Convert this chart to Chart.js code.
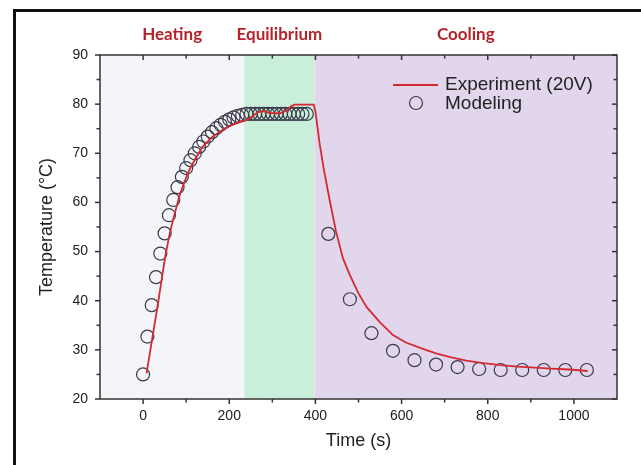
<!DOCTYPE html>
<html>
<head>
<meta charset="utf-8">
<script src="https://cdn.jsdelivr.net/npm/chart.js@4.4.1/dist/chart.umd.min.js"></script>
<style>
  body { margin: 0; background: #fff; }
  #wrap { position: relative; width: 641px; height: 465px; overflow: hidden; }
  #frame { position: absolute; left: 13px; top: 9px; width: 700px; height: 500px; border-left: 3px solid #111; border-top: 3px solid #111; }
  canvas { position: absolute; left: 0; top: 0; }
</style>
</head>
<body>
<div id="wrap">
  <div id="frame"></div>
  <canvas id="chart" width="641" height="465"></canvas>
</div>
<script>
// experiment (red line)
const expTime = [8, 22, 34, 44, 52, 62, 70, 84, 96, 108, 122, 138, 160, 185, 210, 240, 255, 265, 278, 295, 317, 335, 344, 352, 396,
  400, 410, 420, 433, 448, 464, 480, 500, 519, 550, 580, 610, 643, 680, 713, 750, 790, 830, 869, 910, 946, 990, 1032];
const expTemp = [25.2, 32.7, 39.1, 44.8, 49.3, 53.7, 56.6, 61.2, 64.2, 66.7, 69.0, 71.3, 73.3, 74.8, 75.9, 76.8, 77.6, 78.3, 78.6, 78.2, 78.1, 78.8, 79.6, 79.9, 79.9,
  78.5, 71.8, 66.5, 60.5, 54.0, 48.6, 45.2, 41.5, 38.7, 35.6, 33.0, 31.5, 30.4, 29.3, 28.5, 27.8, 27.3, 26.9, 26.6, 26.4, 26.2, 26.0, 25.7];

// modeling (open circles)
const modelTime = [0, 10, 20, 30, 40, 50, 60, 70, 80, 90, 100, 110, 120, 130, 140, 150, 160, 170, 180, 190,
  200, 210, 220, 230, 240, 250, 260, 270, 280, 290, 300, 310, 320, 330, 340, 350, 360, 370, 380,
  430, 480, 530, 580, 630, 680, 730, 780, 830, 880, 930, 980, 1030];
const modelTemp = [25.0, 32.7, 39.1, 44.8, 49.6, 53.7, 57.4, 60.5, 63.1, 65.2, 67.0, 68.6, 70.0, 71.3, 72.4, 73.4, 74.3, 75.1, 75.8, 76.4,
  76.9, 77.3, 77.6, 77.8, 78.0, 78.0, 78.0, 78.0, 78.0, 78.0, 78.0, 78.0, 78.0, 78.0, 78.0, 78.0, 78.0, 78.0, 78.0,
  53.6, 40.3, 33.4, 29.8, 27.9, 27.0, 26.5, 26.1, 25.9, 25.9, 25.9, 25.9, 25.9];

// phases shaded behind the curves
const phaseNames = ['Heating', 'Equilibrium', 'Cooling'];
const phaseStart = [-100, 235, 398];
const phaseEnd = [235, 398, 1100];

const xTickLabels = [0, 200, 400, 600, 800, 1000];
const xMinorTicks = [100, 300, 500, 700, 900];
const yTickLabels = [20, 30, 40, 50, 60, 70, 80, 90];
const yMinorTicks = [25, 35, 45, 55, 65, 75, 85];

const phaseColors = ['#f4f5f9', '#c9eed9', '#e2d6ec'];
const axisColor = '#333';
const textColor = '#222';
const redColor = '#d42a32';
const circleColor = '#3a3a48';
const textFont = '"Liberation Sans", Arial, sans-serif';

const figurePlugin = {
  id: 'figure',
  beforeDatasetsDraw(chart) {
    const { ctx, chartArea, scales: { x } } = chart;
    ctx.save();
    phaseNames.forEach((name, i) => {
      const x0 = x.getPixelForValue(phaseStart[i]);
      const x1 = x.getPixelForValue(phaseEnd[i]);
      ctx.fillStyle = phaseColors[i];
      ctx.fillRect(x0, chartArea.top, x1 - x0, chartArea.bottom - chartArea.top);
    });
    ctx.restore();
  },
  afterDatasetsDraw(chart) {
    const { ctx, chartArea: a, scales: { x, y } } = chart;
    ctx.save();
    ctx.strokeStyle = axisColor;
    ctx.lineWidth = 1.5;
    ctx.strokeRect(a.left, a.top, a.right - a.left, a.bottom - a.top);

    // ticks: outward on bottom/left, inward on top/right
    const tick = (x0, y0, x1, y1) => { ctx.beginPath(); ctx.moveTo(x0, y0); ctx.lineTo(x1, y1); ctx.stroke(); };
    xTickLabels.concat(xMinorTicks).forEach(v => {
      const len = xTickLabels.includes(v) ? 5 : 3.5;
      const px = x.getPixelForValue(v);
      tick(px, a.bottom, px, a.bottom + len);
      tick(px, a.top, px, a.top + len);
    });
    yTickLabels.concat(yMinorTicks).forEach(v => {
      const len = yTickLabels.includes(v) ? 5 : 3.5;
      const py = y.getPixelForValue(v);
      tick(a.left, py, a.left - len, py);
      tick(a.right, py, a.right - len, py);
    });

    // phase labels above the plot
    ctx.fillStyle = '#b5232a';
    ctx.font = 'bold 17px Lato';
    ctx.textAlign = 'center';
    ctx.textBaseline = 'middle';
    phaseNames.forEach((name, i) => {
      const cx = (x.getPixelForValue(phaseStart[i]) + x.getPixelForValue(phaseEnd[i])) / 2;
      ctx.fillText(name, cx, a.top - 20);
    });

    // legend
    const lx = a.right - 224;
    const ly = a.top + 30;
    ctx.strokeStyle = redColor;
    ctx.lineWidth = 1.8;
    tick(lx, ly, lx + 45, ly);
    ctx.strokeStyle = circleColor;
    ctx.lineWidth = 1.2;
    ctx.beginPath();
    ctx.arc(lx + 23, ly + 18, 6.5, 0, Math.PI * 2);
    ctx.stroke();
    ctx.fillStyle = textColor;
    ctx.font = '19px ' + textFont;
    ctx.textAlign = 'left';
    ctx.fillText(chart.data.datasets[0].label, lx + 52, ly);
    ctx.fillText(chart.data.datasets[1].label, lx + 52, ly + 19);
    ctx.restore();
  }
};

new Chart(document.getElementById('chart'), {
  type: 'scatter',
  data: {
    datasets: [
      {
        label: 'Experiment (20V)',
        data: expTime.map((t, i) => ({ x: t, y: expTemp[i] })),
        showLine: true,
        borderColor: redColor,
        borderWidth: 1.8,
        pointRadius: 0,
        tension: 0
      },
      {
        label: 'Modeling',
        data: modelTime.map((t, i) => ({ x: t, y: modelTemp[i] })),
        showLine: false,
        pointRadius: 6.5,
        pointBorderColor: circleColor,
        pointBackgroundColor: 'rgba(0,0,0,0)',
        pointBorderWidth: 1.2
      }
    ]
  },
  options: {
    responsive: false,
    animation: false,
    events: [],
    layout: { padding: { left: 0, top: 55, right: 24, bottom: 0 } },
    plugins: { legend: { display: false }, tooltip: { enabled: false } },
    scales: {
      x: {
        type: 'linear',
        min: -100,
        max: 1100,
        afterBuildTicks: s => { s.ticks = xTickLabels.map(v => ({ value: v })); },
        afterFit: s => { s.height = 66; },
        grid: { display: false, drawTicks: false },
        border: { display: false },
        ticks: { autoSkip: false, maxRotation: 0, padding: 9, color: textColor, font: { family: textFont, size: 14 }, callback: v => String(v) },
        title: { display: true, text: 'Time (s)', color: textColor, font: { family: textFont, size: 18 }, padding: { bottom: 13 } }
      },
      y: {
        type: 'linear',
        min: 20,
        max: 90,
        afterBuildTicks: s => { s.ticks = yTickLabels.map(v => ({ value: v })); },
        afterFit: s => { s.width = 100; },
        grid: { display: false, drawTicks: false },
        border: { display: false },
        ticks: { autoSkip: false, padding: 12, color: textColor, font: { family: textFont, size: 14 }, callback: v => String(v) },
        title: { display: true, text: 'Temperature (°C)', color: textColor, font: { family: textFont, size: 18 }, padding: { top: 36 } }
      }
    }
  },
  plugins: [figurePlugin]
});
</script>
</body>
</html>
